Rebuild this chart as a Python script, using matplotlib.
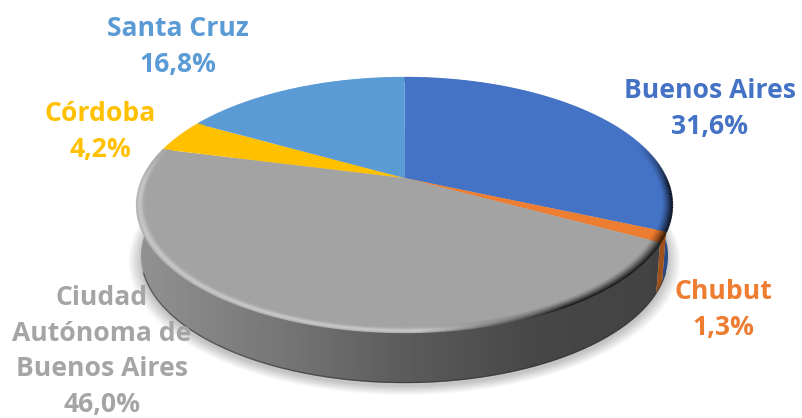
import numpy as np
import matplotlib
matplotlib.use('Agg')
import matplotlib.pyplot as plt
from matplotlib.collections import LineCollection
from matplotlib.colors import to_rgb

# clockwise from 12 o'clock
names = ['Buenos Aires', 'Chubut', 'Ciudad\nAutónoma de\nBuenos Aires', 'Córdoba', 'Santa Cruz']
shares = [31.6, 1.3, 46.0, 4.2, 16.8]
colors = ['#4472c4', '#ed7d31', '#a3a3a3', '#ffc000', '#5b9bd5']
wall_colors = ['#2a4a86', '#a0521c', None, None, None]
label_xy = [(710, 109), (723, 310), (102, 351.5), (100, 132), (178, 47)]

CX, CY = 404.5, 178.
A, B, K = 261.4, 121.3, 0.2126
DEPTH = 51.

plt.rcParams['font.family'] = ['Open Sans', 'DejaVu Sans']

fig = plt.figure(figsize=(8.02, 4.18), dpi=100)
ax = fig.add_axes([0, 0, 1, 1])


def project(theta, r=1., dy=0., sx=1.):
    # disc seen in perspective, theta clockwise from the top
    u, v = r * np.sin(theta), r * np.cos(theta)
    w = 1 + K * v
    return CX + sx * A * u / w, CY - B * v / w + dy


fracs = np.array(shares) / sum(shares)
edges = 2 * np.pi * np.concatenate([[0], np.cumsum(fracs)])

# soft shadow under the disc
t = np.linspace(0, 2 * np.pi, 300)
for i in range(12):
    x, y = project(t, r=1.045 - i * 0.004, dy=DEPTH + 3, sx=0.985)
    ax.fill(x, y, color='k', alpha=0.018, lw=0, zorder=1)

# side wall, grey part gets a left to right gradient
t = np.linspace(edges[2], np.radians(272), 200)
xt, yt = project(t)
xb, yb = project(t, dy=DEPTH, sx=0.985)
wall = ax.fill(np.r_[xt, xb[::-1]], np.r_[yt, yb[::-1]], color='none', lw=0, zorder=2)[0]
levels = np.interp(np.linspace(0, 1, 256), [0, 0.25, 0.5, 0.75, 1], [0x92, 0x78, 0x5c, 0x47, 0x42]) / 255.
im = ax.imshow(np.tile(levels, (2, 1)), cmap='gray', vmin=0, vmax=1, aspect='auto',
               extent=[137, 672, 390, 200], zorder=2)
im.set_clip_path(wall)

for i in (0, 1):
    lo = max(edges[i], np.radians(88)) if i == 0 else edges[i]
    t = np.linspace(lo, edges[i + 1], 60)
    xt, yt = project(t)
    xb, yb = project(t, dy=DEPTH, sx=0.985)
    ax.fill(np.r_[xt, xb[::-1]], np.r_[yt, yb[::-1]], color=wall_colors[i], lw=0, zorder=2)

# dark line along the bottom of the wall
t = np.linspace(np.radians(110), np.radians(250), 200)
xb, yb = project(t, dy=DEPTH - 0.5, sx=0.985)
ax.plot(xb, yb, color='#333333', lw=1, alpha=0.6, zorder=2.5)

# top faces
for i in range(len(shares)):
    t = np.linspace(edges[i], edges[i + 1], 200)
    x, y = project(t)
    ax.fill(np.r_[CX, x], np.r_[CY, y], color=colors[i], lw=0, zorder=3)

# bevel round the rim, lit on the left and dark on the right
n_steps = 10
for step in range(n_steps):
    f = step / (n_steps - 1)
    r = 1 - 0.038 * f
    for i in range(len(shares)):
        t = np.linspace(edges[i], edges[i + 1], 160)
        x, y = project(t, r=r)
        pts = np.column_stack([x, y])
        segs = np.stack([pts[:-1], pts[1:]], axis=1)
        tm = 0.5 * (t[:-1] + t[1:])
        u, v = np.sin(tm), np.cos(tm)
        face = np.array(to_rgb(colors[i]))
        strength = np.clip((0.3 - v) / 0.35, 0, 1)
        dark = np.clip((u - 0.05) / 0.45, 0, 1)
        # profile across the rim: outer edge dark on the wall side, highlight a bit further in
        light_amt = np.exp(-((f - 0.3) / 0.3) ** 2) * (1 - dark) * strength * 0.4
        dark_amt = (1 - f) ** 1.3 * dark * strength * 0.85
        rgba = np.zeros((len(tm), 4))
        rgba[:, :3] = face * (1 - light_amt[:, None]) + light_amt[:, None]
        rgba[:, :3] *= (1 - dark_amt[:, None])
        rgba[:, 3] = 1
        ax.add_collection(LineCollection(segs, colors=rgba, linewidths=1.6, capstyle='butt', zorder=4))

for name, share, col, (lx, ly) in zip(names, shares, colors, label_xy):
    txt = '%s\n%s%%' % (name, ('%.1f' % share).replace('.', ','))
    if col == '#a3a3a3':
        col = '#a5a5a5'
    ax.text(lx, ly, txt, color=col, fontsize=19.1, fontweight='bold', ha='center', va='center',
            linespacing=1.48, zorder=5)

ax.set_xlim(0, 802)
ax.set_ylim(418, 0)
ax.axis('off')
fig.savefig('out.png', dpi=100)
